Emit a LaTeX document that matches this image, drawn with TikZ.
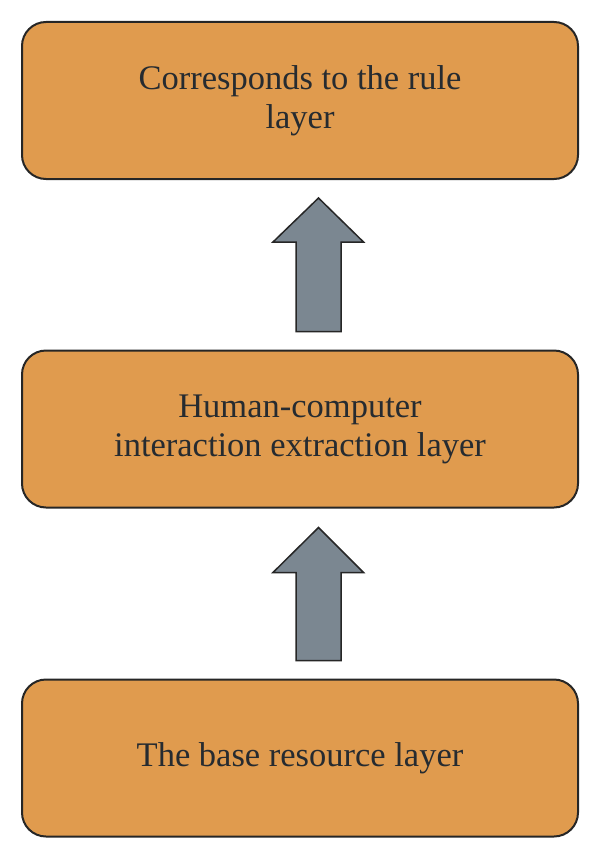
\documentclass[tikz,border=0pt]{standalone}
\usepackage{fontspec}
\setmainfont{Liberation Serif}
\usetikzlibrary{calc}
\definecolor{boxfill}{HTML}{E09B4E}
\definecolor{arrowfill}{HTML}{7B8791}
\definecolor{txt}{HTML}{262B30}
\tikzset{
  layerbox/.style={draw=black!85, line width=2pt, fill=boxfill, rounded corners=24pt,
    minimum width=556pt, minimum height=157pt, inner sep=0pt, align=center,
    text=txt, font=\fontsize{34.5}{39}\selectfont},
  uparrow/.style={draw=black!85, line width=1.5pt, fill=arrowfill, line join=miter}
}
\begin{document}
\begin{tikzpicture}[x=1pt,y=-1pt]
\useasboundingbox (0,0) rectangle (600,859);
\node[layerbox] (top) at (300,100.5) {Corresponds to the rule\\layer};
\node[layerbox] (mid) at (300,429) {Human-computer\\interaction extraction layer};
\node[layerbox] (bot) at (300,758) {The base resource layer};
% arrow from mid to top
\coordinate (a1) at ($(mid.north)+(-4,-18)$);
\coordinate (t1) at ($(top.south)+(18.5,18)$);
\draw[uparrow] (a1) -- (a1 |- {$(t1)+(0,44)$}) -- ++(-23,0) -- (t1)
  -- ($(t1)+(45,44)$) -- ++(-22.5,0) coordinate (r1) -- (r1 |- a1) -- cycle;
% arrow from bot to mid
\coordinate (a2) at ($(bot.north)+(-4,-18)$);
\coordinate (t2) at ($(mid.south)+(18.5,19)$);
\draw[uparrow] (a2) -- (a2 |- {$(t2)+(0,45)$}) -- ++(-23,0) -- (t2)
  -- ($(t2)+(45,45)$) -- ++(-22.5,0) coordinate (r2) -- (r2 |- a2) -- cycle;
\end{tikzpicture}
\end{document}
